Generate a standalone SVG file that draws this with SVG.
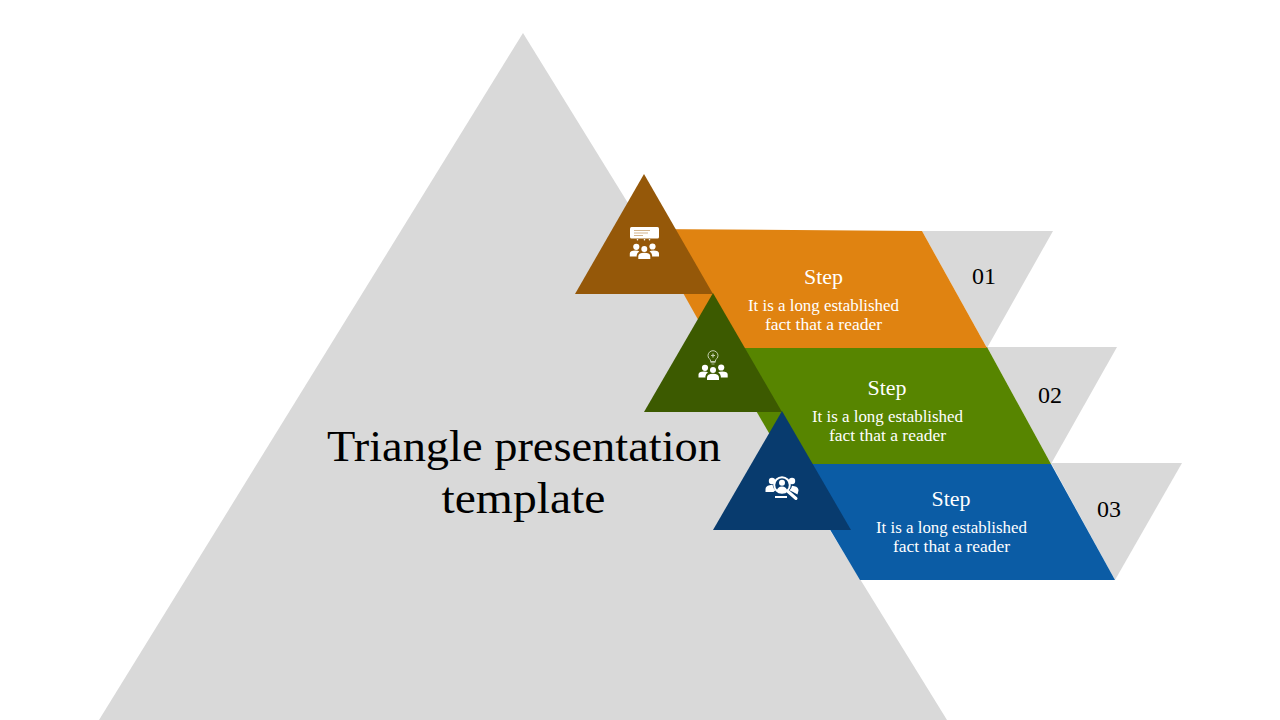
<svg xmlns="http://www.w3.org/2000/svg" xmlns:xlink="http://www.w3.org/1999/xlink" width="1280" height="720" viewBox="0 0 1280 720">
<style>
text{font-family:"Liberation Serif","Times New Roman",serif;text-anchor:middle}
.grey{fill:#d9d9d9}
.title{font-size:44px;fill:#000}
.num{font-size:24px;fill:#000}
.head{font-size:20px;fill:#fff}
.body{font-size:16px;fill:#fff}
.w{fill:#fff}
</style>
<defs>
<g id="people">
<circle cx="-8" cy="-3.200" r="3.100"/><circle cx="8.200" cy="-3.500" r="3.100"/><circle cx="0" cy="-1" r="3"/>
<path d="M-14.500 6.500V3.500q0-2.800 5.500-3 3 0 4 1-2.300 1.200-2.600 3.700v1.300z"/>
<path d="M14.700 6.500V3.500q0-2.800-5.500-3-3 0-4 1 2.300 1.200 2.600 3.700v1.300z"/>
<path d="M-6 9V6.500q0-3.800 6-3.800t6 3.800V9z"/>
</g>
</defs>
<polygon id="backdrop" class="grey" points="523,33 947,720 99,720"/>
<g id="number-01"><polygon class="grey" points="922,231 1053,231 987,348"/><text class="num" x="984" y="284">01</text></g>
<g id="number-02"><polygon class="grey" points="987,347 1117,347 1051,464"/><text class="num" x="1050" y="403">02</text></g>
<g id="number-03"><polygon class="grey" points="1051,463 1182,463 1115,580"/><text class="num" x="1109" y="517">03</text></g>
<g id="band-03"><polygon fill="#0b5ca5" points="791,464 1051,464 1115,580 860,580"/>
<text class="head" x="951" y="506" textLength="39" lengthAdjust="spacingAndGlyphs">Step</text>
<text class="body" x="951.500" y="533" textLength="151" lengthAdjust="spacingAndGlyphs">It is a long established</text>
<text class="body" x="951.500" y="552" textLength="117" lengthAdjust="spacingAndGlyphs">fact that a reader</text></g>
<g id="band-02"><polygon fill="#578500" points="719,347 987,347 1051,464 787,464"/>
<text class="head" x="887" y="395" textLength="39" lengthAdjust="spacingAndGlyphs">Step</text>
<text class="body" x="887.500" y="422" textLength="151" lengthAdjust="spacingAndGlyphs">It is a long established</text>
<text class="body" x="887.500" y="441" textLength="117" lengthAdjust="spacingAndGlyphs">fact that a reader</text></g>
<g id="band-01"><polygon fill="#e08311" points="647,229 922,231 987,348 714,348"/>
<text class="head" x="823.500" y="284" textLength="39" lengthAdjust="spacingAndGlyphs">Step</text>
<text class="body" x="823.500" y="311" textLength="151" lengthAdjust="spacingAndGlyphs">It is a long established</text>
<text class="body" x="823.500" y="330" textLength="117" lengthAdjust="spacingAndGlyphs">fact that a reader</text></g>
<g id="node-01"><polygon fill="#955809" points="644,174 713,294 575,294"/>
<g class="w"><rect x="630" y="227" width="29" height="11.500" rx="1.500"/><use xlink:href="#people" href="#people" x="644.300" y="250"/>
<circle cx="637.500" cy="239.800" r=".8"/><circle cx="644.500" cy="239.800" r=".8"/><circle cx="649.500" cy="239.800" r=".8"/></g>
<path d="M634 230.500h16M634 233h14M634 235.500h9" stroke="#d3b48c" stroke-width="1.200" fill="none"/></g>
<g id="node-02"><polygon fill="#3c5a00" points="713,293 782,412 644,412"/>
<g class="w"><use xlink:href="#people" href="#people" x="713" y="371"/></g>
<path d="M710.500 361.500v-1.700q-2.500-1.400-2.500-4.100a5 5 0 0 1 10 0q0 2.700-2.500 4.100v1.700z" fill="none" stroke="#c4cfb0" stroke-width="1"/>
<path d="M713 353.500v4M711 355.500h4" stroke="#c4cfb0" stroke-width="1.200"/>
<path d="M710.500 362.500h5M711.500 364h3" stroke="#9fb080" stroke-width="1"/></g>
<g id="node-03"><polygon fill="#083b6e" points="782,411 851,530 713,530"/>
<g class="w"><circle cx="772" cy="481" r="3.200"/><circle cx="792" cy="481" r="3.200"/>
<path d="M765.500 492v-2.800q0-3.200 4-4l3-.5q.4 3.500 3 5.500l-2 1.800z"/>
<path d="M793 492l4.500 2.500 1-4q0-3.500-4-4.300l-2.500-.5q-.4 2.800-2.500 4.500z"/></g>
<circle cx="782" cy="485" r="7.800" fill="#083b6e" stroke="#fff" stroke-width="2"/>
<circle cx="782" cy="482.700" r="3" fill="#fff"/><path d="M776.700 491q.8-4.500 5.300-4.500t5.300 4.500q-5.300 3-10.600 0z" fill="#fff"/>
<path d="M788 491.500l8 7" stroke="#fff" stroke-width="3" stroke-linecap="round"/>
<path d="M775 497h12" stroke="#fff" stroke-width="2"/></g>
<g id="title"><text class="title" x="524" y="461" textLength="394" lengthAdjust="spacingAndGlyphs">Triangle presentation</text>
<text class="title" x="523.500" y="513" textLength="164" lengthAdjust="spacingAndGlyphs">template</text></g>
</svg>
